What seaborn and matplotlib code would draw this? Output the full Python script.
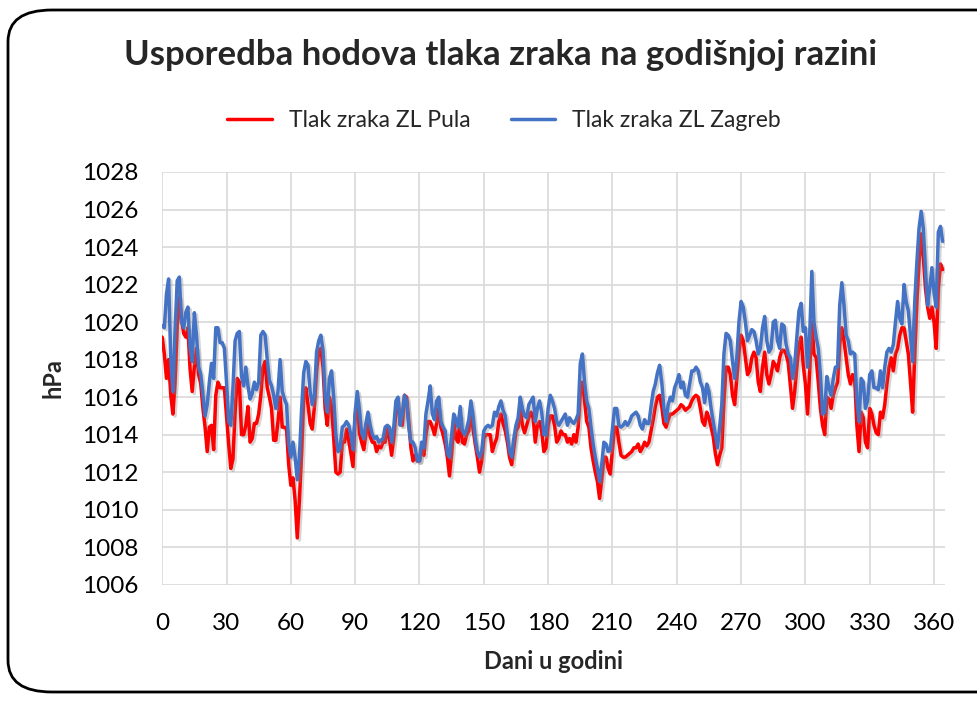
import numpy as np
import pandas as pd
import matplotlib
matplotlib.use("Agg")
import matplotlib.pyplot as plt
import matplotlib.patheffects as pe
from matplotlib.patches import FancyBboxPatch
import seaborn as sns

# daily mean air pressure (hPa), day 0..364
pula = [
    1019.2, 1018.3, 1017.0, 1018.0, 1016.1, 1015.1, 1016.8, 1019.8, 1021.3, 1020.2,
    1019.4, 1019.2, 1019.7, 1017.5, 1016.3, 1017.6, 1018.6, 1017.2, 1016.7, 1015.4,
    1014.4, 1013.1, 1014.4, 1014.5, 1013.2, 1016.1, 1016.8, 1016.5, 1016.5, 1016.5,
    1015.0, 1013.5, 1012.2, 1012.7, 1015.2, 1017.0, 1016.8, 1014.0, 1014.0, 1014.5,
    1015.5, 1013.6, 1013.8, 1014.6, 1014.6, 1015.1, 1016.1, 1017.6, 1017.9, 1016.5,
    1016.0, 1015.4, 1013.7, 1013.7, 1014.7, 1016.0, 1014.4, 1014.4, 1014.3, 1012.4,
    1011.3, 1011.7, 1010.5, 1008.5, 1010.5, 1013.0, 1016.0, 1016.5, 1015.6, 1014.6,
    1014.3, 1015.5, 1017.4, 1018.4, 1018.6, 1017.6, 1015.4, 1014.5, 1016.0, 1015.5,
    1013.8, 1012.0, 1011.9, 1012.0, 1013.6, 1013.6, 1014.3, 1013.7, 1013.0, 1012.3,
    1015.0, 1015.8, 1014.1, 1013.6, 1013.2, 1014.0, 1014.6, 1013.9, 1013.6, 1013.6,
    1013.1, 1013.4, 1013.3, 1013.6, 1013.6, 1014.4, 1013.8, 1012.9, 1013.8, 1015.2,
    1015.8, 1014.7, 1014.5, 1016.1, 1016.0, 1014.7, 1013.3, 1012.6, 1012.9, 1012.6,
    1012.6, 1013.4, 1012.9, 1014.0, 1014.7, 1014.7, 1014.4, 1014.0, 1014.6, 1015.4,
    1014.4, 1014.0, 1013.5, 1012.8, 1011.8, 1013.0, 1014.7, 1013.8, 1013.6, 1015.0,
    1013.6, 1013.5, 1014.0, 1014.2, 1015.4, 1014.3, 1013.5, 1012.8, 1012.0, 1012.6,
    1013.8, 1014.0, 1014.0, 1014.0, 1013.1, 1013.5, 1013.8, 1014.7, 1015.1, 1014.6,
    1014.2, 1013.6, 1012.8, 1012.4, 1013.3, 1014.2, 1014.4, 1015.4, 1014.5, 1014.1,
    1014.5, 1014.9, 1015.2, 1014.9, 1013.6, 1014.5, 1014.7, 1014.2, 1013.1, 1013.3,
    1014.5, 1015.0, 1015.0, 1014.5, 1013.6, 1013.8, 1014.2, 1014.0, 1014.0, 1013.6,
    1013.8, 1013.5, 1014.0, 1013.6, 1014.4, 1016.2, 1016.8, 1015.8, 1014.7, 1014.4,
    1013.3, 1012.6, 1012.0, 1011.5, 1010.6, 1011.6, 1012.8, 1012.8, 1012.2, 1011.9,
    1013.2, 1014.4, 1014.4, 1013.6, 1012.9, 1012.8, 1012.8, 1012.9, 1013.0, 1013.1,
    1013.3, 1013.3, 1013.5, 1013.1, 1013.3, 1013.6, 1013.4, 1013.6, 1014.2, 1014.8,
    1015.5, 1016.0, 1016.1, 1015.5, 1014.6, 1014.4, 1014.8, 1015.1, 1015.1, 1015.2,
    1015.3, 1015.4, 1015.6, 1015.5, 1015.3, 1015.4, 1015.5, 1015.8, 1016.0, 1016.1,
    1016.0, 1015.4, 1014.7, 1014.5, 1015.2, 1014.9, 1014.4, 1013.9, 1013.0, 1012.4,
    1012.9, 1013.3, 1015.8, 1017.6, 1017.6, 1017.2, 1016.1, 1015.6, 1017.0, 1018.4,
    1019.3, 1019.0, 1018.1, 1017.2, 1017.4, 1018.1, 1018.4, 1018.1, 1016.8, 1016.3,
    1017.6, 1018.4, 1017.2, 1016.7, 1017.2, 1017.9, 1017.7, 1017.4, 1018.1, 1018.5,
    1018.5, 1018.3, 1017.8, 1016.6, 1015.4, 1016.3, 1017.6, 1018.8, 1019.2, 1017.7,
    1016.7, 1015.1, 1017.4, 1020.0, 1018.3, 1018.1, 1016.8, 1015.4, 1014.5, 1014.0,
    1016.0, 1015.9, 1015.4, 1016.1, 1016.5, 1016.8, 1018.8, 1019.7, 1019.0, 1018.1,
    1017.2, 1016.7, 1017.2, 1017.0, 1014.5, 1013.1, 1015.2, 1014.9, 1013.6, 1013.3,
    1015.4, 1015.1, 1014.5, 1014.1, 1014.0, 1015.2, 1014.9, 1015.6, 1016.7, 1017.6,
    1018.1, 1017.4, 1018.3, 1018.6, 1019.3, 1019.7, 1019.7, 1019.0, 1018.3, 1016.8,
    1015.2, 1018.3, 1021.1, 1023.2, 1024.7, 1023.5, 1021.8, 1020.8, 1020.2, 1020.8,
    1020.0, 1018.6, 1021.8, 1023.1, 1022.8,
]

zagreb = [
    1019.8, 1019.7, 1021.5, 1022.3, 1018.0, 1016.3, 1019.5, 1022.2, 1022.4, 1020.0,
    1019.7, 1020.5, 1020.8, 1018.6, 1017.9, 1020.5, 1019.3, 1017.6, 1017.2, 1016.1,
    1015.0, 1015.6, 1016.8, 1017.8, 1017.0, 1019.7, 1019.7, 1018.9, 1018.9, 1018.6,
    1016.8, 1014.7, 1014.5, 1016.5, 1019.0, 1019.4, 1019.5, 1017.1, 1016.6, 1017.6,
    1016.6, 1015.9, 1016.2, 1016.8, 1016.4, 1016.8, 1019.3, 1019.5, 1019.3, 1018.0,
    1016.9, 1016.6, 1016.1, 1015.4, 1016.3, 1018.0, 1016.3, 1015.9, 1015.6, 1013.5,
    1012.8, 1013.6, 1012.8, 1011.6, 1012.8, 1015.3, 1017.3, 1017.9, 1017.7, 1016.3,
    1015.6, 1016.1, 1018.4, 1019.0, 1019.3, 1018.5, 1016.0, 1015.2, 1017.0, 1017.4,
    1016.0, 1014.0, 1013.1, 1013.3, 1014.4, 1014.5, 1014.7, 1014.5, 1014.0, 1013.2,
    1015.2, 1016.3, 1015.3, 1014.1, 1013.8, 1014.6, 1015.2, 1014.5, 1014.0, 1013.8,
    1013.9, 1013.6, 1013.7, 1013.8, 1014.4, 1014.5, 1014.4, 1013.6, 1014.4, 1015.8,
    1016.0, 1014.5, 1015.1, 1016.1, 1015.8, 1014.4, 1013.6, 1013.6, 1013.3, 1012.6,
    1012.6, 1013.6, 1013.3, 1015.1, 1015.8, 1016.6, 1015.1, 1014.8, 1015.8, 1016.0,
    1014.7, 1014.4, 1014.2, 1013.0, 1012.8, 1014.0, 1015.1, 1014.8, 1014.4, 1015.5,
    1014.2, 1014.0, 1014.3, 1014.8, 1015.8, 1015.0, 1013.8, 1013.1, 1012.8, 1013.1,
    1014.2, 1014.4, 1014.5, 1014.4, 1014.5, 1015.2, 1015.0, 1015.5, 1015.8, 1015.3,
    1015.0, 1014.0, 1013.1, 1012.8, 1013.8, 1014.5, 1014.9, 1016.0, 1015.4, 1015.0,
    1014.9, 1015.6, 1015.8, 1016.0, 1014.7, 1015.4, 1015.8, 1015.2, 1014.0, 1014.0,
    1015.4, 1016.1, 1015.8, 1015.4, 1014.7, 1014.5, 1014.7, 1014.9, 1015.1, 1014.5,
    1014.9, 1014.7, 1014.6, 1014.8, 1015.1, 1017.8, 1018.3, 1016.8, 1015.8, 1015.4,
    1014.4, 1013.5, 1012.8, 1012.2, 1011.5, 1012.4, 1013.6, 1013.5, 1013.1, 1013.2,
    1014.3, 1015.4, 1015.4, 1014.5, 1014.4, 1014.5, 1014.7, 1014.5, 1014.7, 1015.0,
    1015.1, 1015.2, 1015.0, 1014.5, 1014.3, 1014.8, 1014.6, 1014.6, 1015.5, 1016.3,
    1016.7, 1017.3, 1017.7, 1016.8, 1015.4, 1014.7, 1015.6, 1016.0, 1015.8, 1016.5,
    1016.8, 1017.2, 1016.5, 1016.8, 1016.1, 1016.0, 1016.7, 1017.4, 1017.4, 1017.6,
    1017.4, 1016.8, 1016.5, 1015.7, 1016.7, 1016.3, 1015.4, 1014.7, 1014.0, 1013.3,
    1014.4, 1015.6, 1018.3, 1019.4, 1019.3, 1019.0, 1017.9, 1017.0, 1018.1, 1020.0,
    1021.1, 1020.8, 1020.0, 1019.0, 1019.3, 1019.6, 1019.5, 1019.0, 1018.3, 1018.6,
    1019.7, 1020.3, 1019.0, 1018.4, 1018.6, 1020.0, 1020.1, 1019.0, 1018.6, 1019.9,
    1019.8, 1018.8, 1018.3, 1018.1, 1017.0, 1017.7, 1019.2, 1020.6, 1021.0, 1019.5,
    1019.7, 1017.6, 1019.3, 1022.7, 1020.0, 1019.2, 1018.6, 1017.2, 1015.1, 1015.2,
    1017.1, 1016.5, 1016.1, 1017.0, 1017.6, 1017.6, 1020.9, 1022.1, 1020.9, 1019.3,
    1019.0, 1018.3, 1018.4, 1018.3, 1015.8, 1014.7, 1017.0, 1016.8, 1015.4, 1015.8,
    1017.2, 1017.4, 1016.5, 1016.5, 1016.4, 1017.4, 1016.5, 1017.6, 1018.4, 1018.6,
    1018.4, 1018.8, 1020.0, 1021.1, 1020.2, 1019.9, 1022.0, 1021.1, 1020.6, 1019.3,
    1017.9, 1021.1, 1023.2, 1025.0, 1025.9, 1025.0, 1022.7, 1020.9, 1021.8, 1022.9,
    1021.6, 1020.8, 1024.8, 1025.1, 1024.3,
]

days = np.arange(len(pula))
series_names = ["Tlak zraka ZL Pula", "Tlak zraka ZL Zagreb"]
colors = ["#FF0000", "#4472C4"]
x_ticks = list(range(0, 361, 30))
y_ticks = list(range(1006, 1029, 2))

df = pd.DataFrame({"dan": days, series_names[0]: pula, series_names[1]: zagreb})
long_df = df.melt(id_vars="dan", var_name="serija", value_name="tlak")

sns.set_theme(style="white")
plt.rcParams["font.family"] = ["Lato", "DejaVu Sans"]

fig = plt.figure(figsize=(9.77, 7.02), dpi=100)
ax = fig.add_axes([0.166, 0.167, 0.801, 0.588])

shadow = [pe.SimpleLineShadow(offset=(1.5, -1.5), shadow_color="#888888", alpha=0.35),
          pe.Normal()]
sns.lineplot(data=long_df, x="dan", y="tlak", hue="serija",
             hue_order=series_names, palette=colors, linewidth=2.5,
             ax=ax, legend=False)
for line in ax.get_lines():
    line.set_path_effects(shadow)

ax.set_xlim(0, 365)
ax.set_ylim(1006, 1028)
ax.set_xticks(x_ticks)
ax.set_yticks(y_ticks)
ax.tick_params(axis="both", labelsize=17.5, colors="#000000", length=0)
ax.tick_params(axis="y", pad=17)
ax.tick_params(axis="x", pad=20)
ax.grid(True, color="#d9d9d9", linewidth=1.2)
for s in ax.spines.values():
    s.set_visible(False)
ax.set_axisbelow(True)

ax.set_xlabel("Dani u godini", fontsize=17, fontweight="bold", labelpad=12)
ax.set_ylabel("hPa", fontsize=17, fontweight="bold", labelpad=13)

fig.text(0.512, 0.921, "Usporedba hodova tlaka zraka na godišnjoj razini",
         ha="center", va="center", fontsize=25, fontweight="bold")

handles = [plt.Line2D([], [], color=c, linewidth=2.5) for c in colors]
fig.legend(handles, series_names, loc="center", bbox_to_anchor=(0.516, 0.829),
           ncol=2, frameon=False, fontsize=16.5, handlelength=1.95,
           columnspacing=1.75, handletextpad=0.75)

border = FancyBboxPatch((8 / 977, 10 / 702), 1040 / 977, 682 / 702,
                        boxstyle="round,pad=0,rounding_size=0.045",
                        transform=fig.transFigure, fill=False,
                        edgecolor="black", linewidth=2, clip_on=False)
fig.patches.append(border)

fig.savefig("out.png", dpi=100)
